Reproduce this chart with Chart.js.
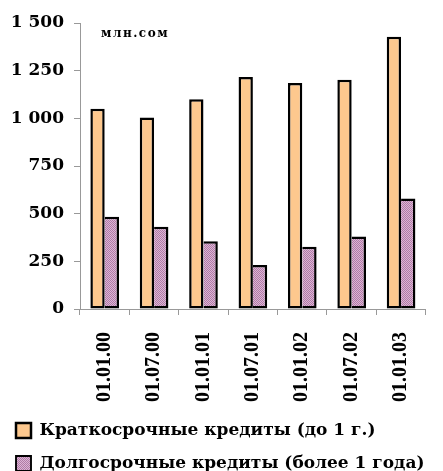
<!DOCTYPE html>
<html lang="ru">
<head>
    <meta charset="UTF-8">
    <title>Кредиты</title>
    <style>
        html, body { margin: 0; padding: 0; background: #fff; }
        #wrap { width: 443px; height: 471px; }
    </style>
</head>
<body>
    <div id="wrap"><canvas id="chart"></canvas></div>

    <script src="https://cdn.jsdelivr.net/npm/chart.js"></script>
    <script>
        // данные
        const dates = ['01.01.00', '01.07.00', '01.01.01', '01.07.01', '01.01.02', '01.07.02', '01.01.03'];
        const shortTerm = [1050, 1005, 1100, 1217, 1185, 1202, 1428];
        const longTerm = [484, 431, 355, 231, 327, 380, 579];
        const seriesNames = ['Краткосрочные кредиты (до 1 г.)', 'Долгосрочные кредиты (более 1 года)'];
        const unitLabel = 'млн.сом';

        const serif = "'Liberation Serif', 'Times New Roman', serif";
        const wideSerif = "'DejaVu Serif', serif";

        // штриховка для второго ряда
        function makePattern() {
            const c = document.createElement('canvas');
            c.width = 2; c.height = 2;
            const g = c.getContext('2d');
            g.fillStyle = '#dcb4d5';
            g.fillRect(0, 0, 2, 2);
            g.fillStyle = '#b07ca6';
            g.fillRect(0, 0, 1, 1);
            g.fillRect(1, 1, 1, 1);
            return g.createPattern(c, 'repeat');
        }
        const purple = makePattern();

        const unitText = {
            id: 'unitText',
            afterDraw(chart) {
                const ctx = chart.ctx;
                ctx.save();
                ctx.font = 'bold 12px ' + wideSerif;
                ctx.letterSpacing = '1.5px';
                ctx.fillStyle = '#000';
                ctx.textBaseline = 'middle';
                ctx.fillText(unitLabel, 101, 34);
                ctx.restore();
            }
        };

        new Chart(document.getElementById('chart'), {
            type: 'bar',
            data: {
                labels: dates,
                datasets: [{
                    label: seriesNames[0],
                    data: shortTerm,
                    backgroundColor: '#fdc88e',
                    borderColor: '#000',
                    borderWidth: 2.5,
                    borderSkipped: false
                }, {
                    label: seriesNames[1],
                    data: longTerm,
                    backgroundColor: purple,
                    borderColor: '#000',
                    borderWidth: { left: 0, top: 2.5, right: 2.5, bottom: 2.5 },
                    borderSkipped: false
                }]
            },
            options: {
                responsive: true,
                maintainAspectRatio: false,
                animation: false,
                layout: { padding: { top: 23, right: 13, left: 0, bottom: -11 } },
                datasets: {
                    bar: { categoryPercentage: 0.58, barPercentage: 1 }
                },
                scales: {
                    x: {
                        grid: { drawOnChartArea: false, color: '#999', tickLength: 6, offset: true },
                        border: { color: '#999', width: 1 },
                        ticks: {
                            color: '#000',
                            font: { family: serif, size: 20, weight: 'bold' },
                            minRotation: 90,
                            maxRotation: 90,
                            padding: 17
                        },
                        afterFit(scale) { scale.height = 97; }
                    },
                    y: {
                        min: 0,
                        max: 1500,
                        grid: { drawOnChartArea: false, color: '#999', tickLength: 6 },
                        border: { color: '#999', width: 1 },
                        ticks: {
                            stepSize: 250,
                            color: '#000',
                            padding: 10,
                            font: { family: wideSerif, size: 17, weight: 'bold' },
                            callback: v => String(v).replace(/\B(?=(\d{3})+(?!\d))/g, ' ')
                        },
                        afterFit(scale) { scale.width = 80; }
                    }
                },
                plugins: {
                    tooltip: { enabled: false },
                    legend: {
                        position: 'bottom',
                        align: 'start',
                        labels: {
                            color: '#000',
                            boxWidth: 15,
                            boxHeight: 15,
                            padding: 16,
                            font: { family: wideSerif, size: 17, weight: 'bold' }
                        }
                    }
                }
            },
            plugins: [unitText]
        });
    </script>
</body>
</html>
